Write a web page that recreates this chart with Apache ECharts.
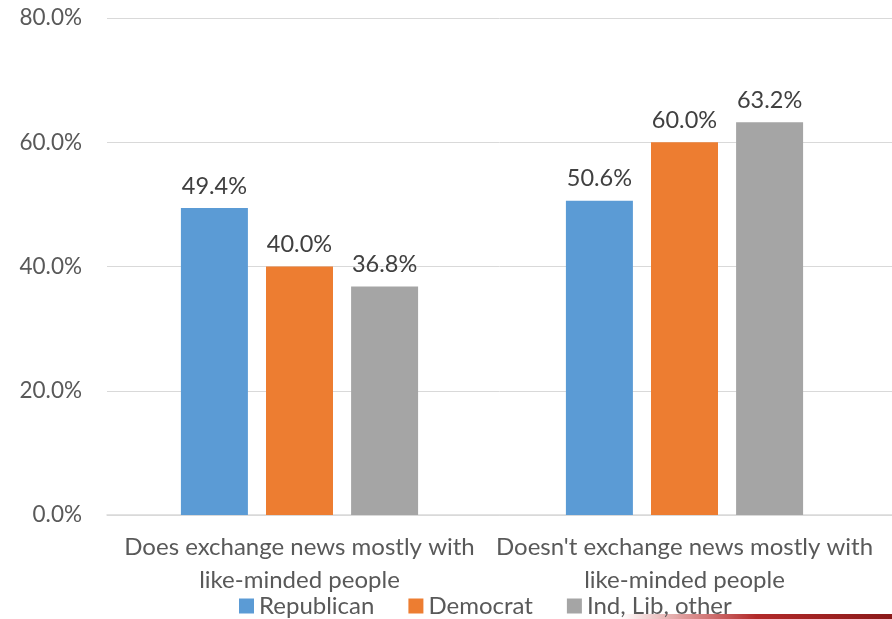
<!DOCTYPE html>
<html>
<head>
<meta charset="utf-8">
<script src="https://cdn.jsdelivr.net/npm/echarts@6/dist/echarts.min.js"></script>
<style>
  html, body { margin: 0; padding: 0; background: #fff; }
  #chart { width: 892px; height: 619px; }
</style>
</head>
<body>
<div id="chart"></div>
<script>
var categories = ['Does exchange news mostly with\nlike-minded people', "Doesn't exchange news mostly with\nlike-minded people"];
var republican = [49.4, 50.6];
var democrat = [40.0, 60.0];
var indLibOther = [36.8, 63.2];
var seriesNames = ['Republican', 'Democrat', 'Ind, Lib, other'];
var colors = ['#5b9bd5', '#ed7d31', '#a5a5a5'];

var fontName = 'Lato';
var myChart = echarts.init(document.getElementById('chart'));

function barSeries(name, data, color) {
    return {
        name: name,
        type: 'bar',
        xAxisIndex: 0,
        yAxisIndex: 0,
        barWidth: 67,
        barGap: '27%',
        itemStyle: { color: color },
        label: {
            show: true,
            position: 'top',
            distance: 10,
            color: '#404040',
            fontFamily: fontName,
            fontSize: 23.5,
            formatter: function (p) { return p.value.toFixed(1) + '%'; }
        },
        data: data
    };
}

var option = {
    animation: false,
    color: colors,
    legend: {
        top: 589,
        left: 234,
        itemWidth: 15,
        itemHeight: 15,
        itemGap: 34,
        icon: 'rect',
        textStyle: { color: '#595959', fontFamily: fontName, fontSize: 24 },
        data: seriesNames
    },
    grid: [
        // bars
        { left: 107, right: 15, top: 18, bottom: 104 },
        // gridlines run to the right edge
        { left: 107, right: 0, top: 18, bottom: 104 }
    ],
    xAxis: [{
        type: 'category',
        gridIndex: 0,
        data: categories,
        axisTick: { show: false },
        axisLine: { show: false },
        axisLabel: {
            color: '#595959',
            fontFamily: fontName,
            fontSize: 24,
            lineHeight: 33,
            margin: 16,
            interval: 0
        }
    }, {
        type: 'value',
        gridIndex: 1,
        min: 0,
        max: 1,
        axisLabel: { show: false },
        axisTick: { show: false },
        splitLine: { show: false },
        axisLine: { show: true, lineStyle: { color: '#d9d9d9', width: 1.5 } }
    }],
    yAxis: [{
        type: 'value',
        gridIndex: 0,
        min: 0,
        max: 80,
        interval: 20,
        axisLine: { show: false },
        axisTick: { show: false },
        splitLine: { show: false },
        axisLabel: {
            color: '#595959',
            fontFamily: fontName,
            fontSize: 22.5,
            margin: 25,
            formatter: function (v) { return v.toFixed(1) + '%'; }
        }
    }, {
        type: 'value',
        gridIndex: 1,
        min: 0,
        max: 80,
        interval: 20,
        axisLine: { show: false },
        axisTick: { show: false },
        axisLabel: { show: false },
        splitLine: { lineStyle: { color: '#d9d9d9', width: 1 } }
    }],
    graphic: [{
        type: 'rect',
        left: 620,
        top: 614,
        shape: { width: 272, height: 5 },
        style: {
            fill: new echarts.graphic.LinearGradient(0, 0, 1, 0, [
                { offset: 0, color: 'rgba(192,40,40,0)' },
                { offset: 0.5, color: '#b22a2a' },
                { offset: 1, color: '#8b1a1a' }
            ])
        }
    }],
    series: [
        barSeries(seriesNames[0], republican, colors[0]),
        barSeries(seriesNames[1], democrat, colors[1]),
        barSeries(seriesNames[2], indLibOther, colors[2])
    ]
};

myChart.setOption(option);
</script>
</body>
</html>
